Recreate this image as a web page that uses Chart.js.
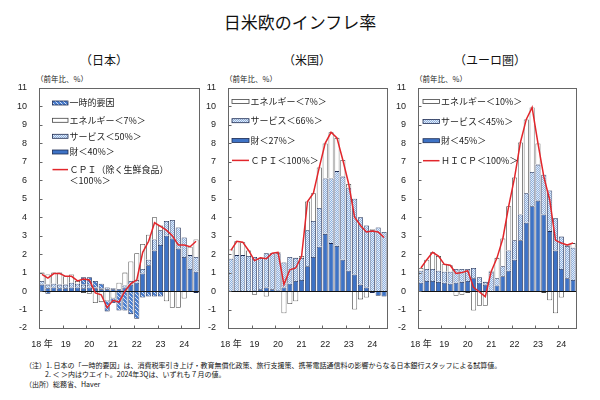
<!DOCTYPE html>
<html lang="ja">
<head>
<meta charset="utf-8">
<script src="https://cdn.jsdelivr.net/npm/chart.js@4.4.1/dist/chart.umd.min.js"></script>
<style>
  html, body { margin: 0; padding: 0; background: #fff; }
  body { width: 600px; height: 400px; position: relative; overflow: hidden; font-family: "Noto Sans CJK JP", sans-serif; color: #111; }
  .title { position: absolute; left: 0; width: 600px; top: 11px; line-height: 22px; text-align: center; font-size: 17px; }
  .panel-title { position: absolute; top: 51px; width: 120px; line-height: 18px; text-align: center; font-size: 12px; }
  .unit { position: absolute; top: 74px; line-height: 10px; font-size: 7.5px; color: #222; }
  .box { position: absolute; top: 70px; }
  .notes { position: absolute; left: 25px; top: 361px; font-size: 7px; line-height: 9.3px; color: #111; white-space: nowrap; }
  .notes .ind { padding-left: 20px; }
</style>
</head>
<body>
<div class="title">日米欧のインフレ率</div>

<div class="panel-title" style="left:44px">（日本）</div>
<div class="panel-title" style="left:247px">（米国）</div>
<div class="panel-title" style="left:430px">（ユーロ圏）</div>

<div class="unit" style="left:36px">（前年比、%）</div>
<div class="unit" style="left:225px">（前年比、%）</div>
<div class="unit" style="left:415px">（前年比、%）</div>

<div class="box" style="left:0px"><canvas id="jp" width="205" height="280"></canvas></div>
<div class="box" style="left:188px"><canvas id="us" width="205" height="280"></canvas></div>
<div class="box" style="left:378px"><canvas id="eu" width="204" height="280"></canvas></div>

<div class="notes">
  <div>（注）1. 日本の「一時的要因」は、消費税率引き上げ・教育無償化政策、旅行支援策、携帯電話通信料の影響からなる日本銀行スタッフによる試算値。</div>
  <div class="ind">2. ＜ ＞内はウエイト。2024年3Qは、いずれも７月の値。</div>
  <div>（出所）総務省、Haver</div>
</div>

<script>
'use strict';

// 2018Q1 - 2024Q3 (24Q3 = July)
var quarters = ['18Q1','18Q2','18Q3','18Q4','19Q1','19Q2','19Q3','19Q4','20Q1','20Q2','20Q3','20Q4',
                '21Q1','21Q2','21Q3','21Q4','22Q1','22Q2','22Q3','22Q4','23Q1','23Q2','23Q3','23Q4',
                '24Q1','24Q2','24Q3'];
var yearLabels = ['18 年', '19', '20', '21', '22', '23', '24'];

// 日本
var jpGoods    = [0.35,0.15,0.2,0.15, 0.15,0.2,0.2,0.15, 0.2,0.15,0.1,0.1, 0.1,0.1,0.2,0.35, 0.45,0.95,1.4,2.2, 2.5,3.0,2.85,2.3, 1.85,1.2,1.05];
var jpServices = [0.2,0.2,0.2,0.2, 0.2,0.25,0.2,0.2, 0.15,0.05,0.05,0.1, 0.05,0.0,0.1,0.2, 0.15,0.25,0.3,0.6, 0.8,0.8,1.0,1.15, 1.05,0.75,0.8];
var jpEnergy   = [0.45,0.55,0.6,0.65, 0.45,0.45,0.15,-0.1, -0.15,-0.65,-0.6,-0.55, -0.4,0.35,0.7,1.05, 1.45,1.35,1.35,1.2, 0.25,-0.55,-0.9,-0.9, -0.4,0.45,0.95];
var jpOneOff   = [0,-0.15,0,0, 0,0,-0.05,0.4, 0.4,0.35,0.25,-0.55, -0.25,-1.05,-1.05,-1.25, -1.5,-0.35,-0.3,-0.3, -0.3,0,0,0, 0,0,-0.1];
var jpCpi      = [0.9,0.7,0.95,0.95, 0.8,0.8,0.55,0.65, 0.6,-0.1,-0.2,-0.9, -0.5,-0.6,0.0,0.4, 0.6,2.1,2.7,3.7, 3.5,3.3,3.0,2.5, 2.5,2.4,2.7];

// 米国
var usGoods    = [-0.05,0.0,0.0,0.0, 0.05,0.1,0.2,0.1, 0.05,0.2,0.4,0.55, 0.6,1.35,1.85,2.4, 3.1,2.6,2.45,1.7, 1.1,0.9,0.35,0.2, -0.1,-0.25,-0.3];
var usServices = [1.75,1.95,1.95,1.9, 1.8,1.7,1.85,1.95, 2.0,1.35,1.45,1.25, 1.2,1.95,1.95,2.1, 3.0,3.5,4.05,4.5, 4.5,4.1,3.65,3.35, 3.3,3.45,3.2];
var usEnergy   = [0.5,0.75,0.7,0.3, -0.2,0.0,-0.3,0.0, 0.05,-1.2,-0.7,-0.55, 0.1,1.55,1.5,2.2, 1.9,2.5,1.8,0.9, 0.2,-1.0,-0.45,-0.35, 0.05,0.0,0.0];
var usCpi      = [2.2,2.7,2.65,2.2, 1.65,1.8,1.75,2.05, 2.1,0.35,1.15,1.25, 1.9,4.85,5.3,6.7, 8.0,8.6,8.3,7.1, 5.8,4.0,3.55,3.2, 3.25,3.2,2.9];

// ユーロ圏
var euGoods    = [0.45,0.55,0.55,0.5, 0.45,0.4,0.45,0.5, 0.55,0.7,0.45,0.35, -0.05,0.3,0.8,1.1, 1.7,2.75,3.7,4.6, 4.9,4.15,3.25,2.2, 1.2,0.7,0.6];
var euServices = [0.65,0.65,0.65,0.6, 0.6,0.65,0.75,0.7, 0.65,0.55,0.3,0.15, 1.05,0.4,0.55,1.1, 1.05,1.4,1.6,1.85, 1.95,2.15,2.2,1.75, 1.75,1.75,1.75];
var euEnergy   = [0.15,0.5,0.9,0.8, 0.4,0.35,-0.25,-0.2, -0.1,-1.05,-0.8,-0.8, 0.05,1.1,1.5,2.4, 3.4,3.9,4.0,3.5, 1.15,-0.1,-0.5,-1.2, -0.35,0.05,0.25];
var euHicp     = [1.25,1.7,2.1,1.9, 1.45,1.4,0.95,1.0, 1.1,0.2,-0.05,-0.3, 1.05,1.8,2.85,4.6, 6.15,8.05,9.3,9.95, 8.0,6.2,4.95,2.75, 2.6,2.5,2.6];

var jpLegend = ['一時的要因', 'エネルギー＜7%＞', 'サービス＜50%＞', '財＜40%＞', 'ＣＰＩ（除く生鮮食品）', '＜100%＞'];
var usLegend = ['エネルギー＜7%＞', 'サービス＜66%＞', '財＜27%＞', 'ＣＰＩ＜100%＞'];
var euLegend = ['エネルギー＜10%＞', 'サービス＜45%＞', '財＜45%＞', 'ＨＩＣＰ＜100%＞'];

var numFont = '"Liberation Sans", "Noto Sans CJK JP", sans-serif';
var jaFont = '"Noto Sans CJK JP", sans-serif';
var edge = '#1d2b52';
var red = '#e2262b';

function makePattern(w, h, base, dot, cells) {
  var c = document.createElement('canvas');
  c.width = w; c.height = h;
  var g = c.getContext('2d');
  g.fillStyle = base;
  g.fillRect(0, 0, w, h);
  g.fillStyle = dot;
  cells.forEach(function (p) { g.fillRect(p[0], p[1], 1, 1); });
  return g.createPattern(c, 'repeat');
}

var fills = {
  goods: '#3e73c6',
  services: makePattern(2, 2, '#8fb1df', '#e4edf9', [[0, 0], [1, 1]]),
  energy: '#ffffff',
  oneoff: makePattern(4, 4, '#4a7ecf', '#d3e1f5', [[0, 0], [1, 1], [2, 2], [3, 3]])
};
var strokes = { goods: edge, services: edge, energy: '#444', oneoff: edge };

function barSet(label, data, key) {
  return {
    type: 'bar', label: label, data: data, order: 1, stack: 'bars',
    backgroundColor: fills[key], borderColor: strokes[key], borderWidth: 0.8,
    barPercentage: 0.86, categoryPercentage: 1.0
  };
}

function lineSet(label, data) {
  return {
    type: 'line', label: label, data: data, order: 0, stack: 'line',
    borderColor: red, borderWidth: 1.5, pointRadius: 0, fill: false, tension: 0
  };
}

var panelDecor = {
  id: 'panelDecor',
  beforeDatasetDraw: function (chart, args) {
    if (args.meta.type !== 'line') return;
    var ctx = chart.ctx, a = chart.chartArea;
    var y0 = Math.round(chart.scales.y.getPixelForValue(0)) + 0.5;
    ctx.save();
    ctx.strokeStyle = '#111';
    ctx.lineWidth = 1;
    ctx.beginPath();
    ctx.moveTo(a.left, y0);
    ctx.lineTo(a.right, y0);
    ctx.stroke();
    ctx.restore();
  },
  afterDraw: function (chart, args, opts) {
    var ctx = chart.ctx, a = chart.chartArea, x = chart.scales.x, y = chart.scales.y;
    ctx.save();
    // frame
    ctx.strokeStyle = '#666';
    ctx.lineWidth = 1;
    var l = Math.round(a.left) + 0.5, t = Math.round(a.top) + 0.5;
    var r = Math.round(a.right) + 0.5, b = Math.round(a.bottom) + 0.5;
    ctx.strokeRect(l, t, r - l, b - t);
    // inward ticks
    ctx.beginPath();
    for (var v = -2; v <= 11; v++) {
      var py = Math.round(y.getPixelForValue(v)) + 0.5;
      ctx.moveTo(l, py); ctx.lineTo(l + 3, py);
    }
    for (var i = 4; i < quarters.length; i += 4) {
      var px = Math.round((x.getPixelForValue(i - 1) + x.getPixelForValue(i)) / 2) + 0.5;
      ctx.moveTo(px, b); ctx.lineTo(px, b - 3);
    }
    ctx.stroke();

    // legend
    ctx.font = opts.font;
    ctx.textBaseline = 'middle';
    opts.items.forEach(function (it) {
      var bx = a.left + opts.x, by = a.top + it.y;
      if (it.kind === 'line') {
        ctx.strokeStyle = red;
        ctx.lineWidth = 1.5;
        ctx.beginPath();
        ctx.moveTo(bx, by); ctx.lineTo(bx + opts.w, by);
        ctx.stroke();
      } else if (it.kind) {
        ctx.fillStyle = fills[it.kind];
        ctx.fillRect(bx, by - opts.h / 2, opts.w, opts.h);
        ctx.strokeStyle = strokes[it.kind];
        ctx.lineWidth = 0.8;
        ctx.strokeRect(bx, by - opts.h / 2, opts.w, opts.h);
      }
      ctx.fillStyle = '#222';
      ctx.fillText(it.text, bx + opts.w + opts.gap, by);
    });
    ctx.restore();
  }
};

function makeChart(id, datasets, yWidth, legend) {
  return new Chart(document.getElementById(id), {
    data: { labels: quarters, datasets: datasets },
    plugins: [panelDecor],
    options: {
      responsive: false,
      animation: false,
      layout: { padding: { top: 18, right: 6, bottom: 0, left: 0 } },
      plugins: { legend: { display: false }, tooltip: { enabled: false }, panelDecor: legend },
      scales: {
        x: {
          stacked: true, offset: true,
          grid: { display: false }, border: { display: false },
          ticks: {
            autoSkip: false, maxRotation: 0, minRotation: 0, padding: 3, color: '#222',
            font: { family: numFont, size: 9 },
            callback: function (v, i) { return i % 4 === 0 ? yearLabels[i / 4] : ''; }
          },
          afterFit: function (s) { s.height = 22; }
        },
        y: {
          stacked: true, min: -2, max: 11,
          grid: { display: false }, border: { display: false },
          ticks: { stepSize: 1, padding: 4, color: '#222', font: { family: numFont, size: 9 } },
          afterFit: function (s) { s.width = yWidth; }
        }
      }
    }
  });
}

makeChart('jp', [
  lineSet(jpLegend[4], jpCpi),
  barSet(jpLegend[3], jpGoods, 'goods'),
  barSet(jpLegend[2], jpServices, 'services'),
  barSet(jpLegend[1], jpEnergy, 'energy'),
  barSet(jpLegend[0], jpOneOff, 'oneoff')
], 39, {
  font: '9px ' + jaFont, x: 13.5, w: 15.5, h: 4, gap: 1.5,
  items: [
    { kind: 'oneoff', text: jpLegend[0], y: 15 },
    { kind: 'energy', text: jpLegend[1], y: 32.3 },
    { kind: 'services', text: jpLegend[2], y: 48.3 },
    { kind: 'goods', text: jpLegend[3], y: 64 },
    { kind: 'line', text: jpLegend[4], y: 81.6 },
    { kind: '', text: jpLegend[5], y: 92.5 }
  ]
});

makeChart('us', [
  lineSet(usLegend[3], usCpi),
  barSet(usLegend[2], usGoods, 'goods'),
  barSet(usLegend[1], usServices, 'services'),
  barSet(usLegend[0], usEnergy, 'energy')
], 40, {
  font: '9px ' + jaFont, x: 4, w: 17, h: 4, gap: 1.5,
  items: [
    { kind: 'energy', text: usLegend[0], y: 13.4 },
    { kind: 'services', text: usLegend[1], y: 32.7 },
    { kind: 'goods', text: usLegend[2], y: 52.4 },
    { kind: 'line', text: usLegend[3], y: 72.4 }
  ]
});

makeChart('eu', [
  lineSet(euLegend[3], euHicp),
  barSet(euLegend[2], euGoods, 'goods'),
  barSet(euLegend[1], euServices, 'services'),
  barSet(euLegend[0], euEnergy, 'energy')
], 40, {
  font: '9px ' + jaFont, x: 5, w: 16.5, h: 4, gap: 1.5,
  items: [
    { kind: 'energy', text: euLegend[0], y: 13.4 },
    { kind: 'services', text: euLegend[1], y: 33.4 },
    { kind: 'goods', text: euLegend[2], y: 52.7 },
    { kind: 'line', text: euLegend[3], y: 72.7 }
  ]
});
</script>
</body>
</html>
